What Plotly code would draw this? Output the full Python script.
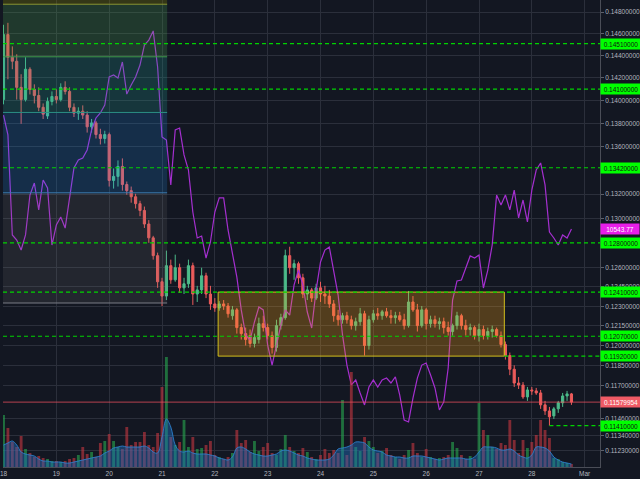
import math
import pandas as pd
import plotly.graph_objects as go

# ---------------- data (2-hour candles, Feb 18 - Feb 28) ----------------
candle_times = pd.date_range("2018-02-18 00:00", periods=130, freq="2h")

open_ = [0.14008, 0.14593, 0.14386, 0.14350, 0.14116, 0.14008, 0.14278, 0.14098, 0.14044, 0.13940,
         0.13864, 0.13991, 0.14035, 0.14008, 0.14116, 0.14080, 0.13940, 0.13889, 0.13906, 0.13872,
         0.13770, 0.13804, 0.13703, 0.13669, 0.13703, 0.13313, 0.13347, 0.13431, 0.13279, 0.13228,
         0.13177, 0.13120, 0.13064, 0.12953, 0.12841, 0.12698, 0.12491, 0.12379, 0.12618, 0.12506,
         0.12602, 0.12443, 0.12475, 0.12618, 0.12395, 0.12427, 0.12538, 0.12395, 0.12318, 0.12287,
         0.12318, 0.12302, 0.12227, 0.12272, 0.12136, 0.12090, 0.12075, 0.12015, 0.12045, 0.12166,
         0.12136, 0.12075, 0.11985, 0.12151, 0.12212, 0.12698, 0.12602, 0.12634, 0.12522, 0.12395,
         0.12427, 0.12363, 0.12443, 0.12395, 0.12379, 0.12318, 0.12227, 0.12196, 0.12227, 0.12196,
         0.12151, 0.12181, 0.12242, 0.12000, 0.12196, 0.12242, 0.12227, 0.12257, 0.12227, 0.12212,
         0.12227, 0.12196, 0.12151, 0.12333, 0.12272, 0.12151, 0.12272, 0.12166, 0.12196, 0.12166,
         0.12181, 0.12136, 0.12106, 0.12151, 0.12227, 0.12151, 0.12121, 0.12136, 0.12075, 0.12121,
         0.12075, 0.12106, 0.12121, 0.12075, 0.12007, 0.11924, 0.11822, 0.11720, 0.11705, 0.11618,
         0.11669, 0.11662, 0.11647, 0.11560, 0.11516, 0.11480, 0.11531, 0.11575, 0.11625, 0.11640]
high = [0.14683, 0.14701, 0.14485, 0.14413, 0.14233, 0.14386, 0.14296, 0.14143, 0.14116, 0.13974,
        0.14026, 0.14080, 0.14098, 0.14152, 0.14170, 0.14116, 0.13974, 0.13940, 0.13957, 0.13906,
        0.13838, 0.13821, 0.13753, 0.13736, 0.13720, 0.13414, 0.13482, 0.13499, 0.13304, 0.13262,
        0.13202, 0.13144, 0.13096, 0.12985, 0.12857, 0.12722, 0.12522, 0.12738, 0.12666, 0.12706,
        0.12634, 0.12522, 0.12666, 0.12642, 0.12459, 0.12602, 0.12562, 0.12459, 0.12363, 0.12340,
        0.12348, 0.12325, 0.12302, 0.12287, 0.12166, 0.12136, 0.12121, 0.12090, 0.12212, 0.12227,
        0.12166, 0.12106, 0.12196, 0.12242, 0.12746, 0.12769, 0.12666, 0.12650, 0.12554, 0.12459,
        0.12443, 0.12475, 0.12491, 0.12459, 0.12427, 0.12348, 0.12272, 0.12249, 0.12257, 0.12227,
        0.12212, 0.12287, 0.12265, 0.12227, 0.12272, 0.12287, 0.12272, 0.12287, 0.12272, 0.12257,
        0.12257, 0.12242, 0.12419, 0.12379, 0.12318, 0.12302, 0.12287, 0.12227, 0.12227, 0.12212,
        0.12212, 0.12181, 0.12166, 0.12257, 0.12242, 0.12196, 0.12166, 0.12151, 0.12166, 0.12151,
        0.12136, 0.12151, 0.12136, 0.12106, 0.12030, 0.11947, 0.11851, 0.11764, 0.11727, 0.11691,
        0.11691, 0.11684, 0.11669, 0.11589, 0.11545, 0.11545, 0.11589, 0.11647, 0.11662, 0.11647]
low = [0.13966, 0.14188, 0.14278, 0.14008, 0.13796, 0.13991, 0.14053, 0.13974, 0.13906, 0.13838,
       0.13838, 0.13957, 0.13974, 0.13991, 0.14053, 0.13906, 0.13855, 0.13830, 0.13838, 0.13720,
       0.13720, 0.13669, 0.13618, 0.13626, 0.13262, 0.13245, 0.13262, 0.13228, 0.13194, 0.13128,
       0.13080, 0.13017, 0.12921, 0.12801, 0.12666, 0.12443, 0.12302, 0.12348, 0.12475, 0.12491,
       0.12403, 0.12395, 0.12443, 0.12310, 0.12333, 0.12395, 0.12363, 0.12272, 0.12257, 0.12265,
       0.12272, 0.12212, 0.12196, 0.12090, 0.12045, 0.12000, 0.11985, 0.11985, 0.12015, 0.12106,
       0.12045, 0.11939, 0.11954, 0.12121, 0.12196, 0.12554, 0.12506, 0.12475, 0.12363, 0.12348,
       0.12333, 0.12348, 0.12333, 0.12318, 0.12287, 0.12181, 0.12151, 0.12166, 0.12166, 0.12121,
       0.12113, 0.12151, 0.11924, 0.11969, 0.12174, 0.12196, 0.12196, 0.12212, 0.12166, 0.12166,
       0.12181, 0.12121, 0.12136, 0.12257, 0.12106, 0.12136, 0.12121, 0.12136, 0.12136, 0.12121,
       0.12090, 0.12075, 0.12075, 0.12121, 0.12121, 0.12075, 0.12075, 0.12045, 0.12030, 0.12045,
       0.12045, 0.12060, 0.12060, 0.11985, 0.11894, 0.11778, 0.11691, 0.11676, 0.11604, 0.11589,
       0.11633, 0.11633, 0.11531, 0.11487, 0.11410, 0.11458, 0.11502, 0.11545, 0.11589, 0.11560]
close = [0.14593, 0.14386, 0.14350, 0.14116, 0.14008, 0.14278, 0.14098, 0.14044, 0.13940, 0.13880,
         0.13991, 0.14035, 0.14008, 0.14116, 0.14080, 0.13940, 0.13889, 0.13906, 0.13872, 0.13770,
         0.13804, 0.13703, 0.13669, 0.13703, 0.13313, 0.13347, 0.13431, 0.13279, 0.13228, 0.13177,
         0.13120, 0.13064, 0.12953, 0.12841, 0.12698, 0.12491, 0.12379, 0.12618, 0.12506, 0.12602,
         0.12443, 0.12475, 0.12618, 0.12395, 0.12427, 0.12538, 0.12395, 0.12318, 0.12287, 0.12318,
         0.12302, 0.12242, 0.12272, 0.12136, 0.12090, 0.12045, 0.12015, 0.12060, 0.12166, 0.12136,
         0.12075, 0.11985, 0.12151, 0.12212, 0.12698, 0.12602, 0.12634, 0.12522, 0.12395, 0.12427,
         0.12363, 0.12443, 0.12395, 0.12379, 0.12318, 0.12227, 0.12196, 0.12227, 0.12196, 0.12151,
         0.12181, 0.12242, 0.12000, 0.12196, 0.12242, 0.12227, 0.12257, 0.12227, 0.12212, 0.12227,
         0.12196, 0.12151, 0.12333, 0.12272, 0.12151, 0.12272, 0.12166, 0.12196, 0.12166, 0.12181,
         0.12136, 0.12106, 0.12151, 0.12227, 0.12151, 0.12121, 0.12136, 0.12075, 0.12121, 0.12075,
         0.12106, 0.12121, 0.12075, 0.12007, 0.11924, 0.11822, 0.11720, 0.11705, 0.11618, 0.11669,
         0.11662, 0.11647, 0.11560, 0.11516, 0.11473, 0.11531, 0.11575, 0.11625, 0.11640, 0.11579954]

volume_m = [5.2, 3.9, 2.5, 2.0, 3.1, 1.8, 1.4, 1.0, 1.1, 0.9,
            0.8, 0.6, 0.6, 0.5, 0.6, 0.8, 0.9, 1.2, 2.0, 1.3,
            1.5, 1.0, 2.4, 2.6, 3.3, 2.6, 2.0, 1.8, 4.0, 2.2,
            2.5, 2.5, 3.5, 2.2, 2.0, 3.4, 8.0, 11.0, 3.0, 2.2,
            2.5, 4.7, 2.0, 3.0, 1.8, 1.9, 2.2, 2.6, 1.2, 1.0,
            0.8, 1.0, 1.4, 3.7, 2.4, 2.7, 1.5, 2.6, 1.6, 2.0,
            2.4, 1.4, 1.2, 1.8, 3.2, 2.0, 1.6, 1.4, 1.9, 1.5,
            1.0, 0.8, 1.2, 1.8, 1.4, 1.7, 1.4, 6.7, 1.2, 9.5,
            2.0, 1.6, 3.0, 2.6, 2.0, 1.4, 1.6, 1.9, 1.2, 1.0,
            0.8, 1.2, 1.7, 2.4, 1.4, 1.0, 1.8, 1.0, 0.8, 0.9,
            1.0, 1.2, 2.5, 1.9, 1.2, 0.8, 1.1, 0.8, 6.4, 3.7,
            3.2, 2.0, 1.8, 2.4, 2.2, 4.7, 2.7, 1.4, 2.7, 1.9,
            2.5, 3.2, 4.7, 3.7, 2.9, 0.9, 0.8, 0.5, 0.4, 0.3]

volume_avg_m = [2.2, 2.4, 2.6, 2.2, 1.5, 1.3, 1.2, 1.1, 0.8, 0.6,
                0.6, 0.5, 0.5, 0.5, 0.4, 0.4, 0.5, 0.6, 0.7, 0.8,
                0.9, 1.0, 1.1, 1.4, 1.6, 1.9, 2.0, 2.1, 2.0, 2.0,
                2.0, 2.0, 2.1, 1.9, 1.5, 1.4, 3.0, 4.8, 4.0, 2.2,
                1.6, 1.5, 1.6, 1.4, 1.3, 1.3, 1.3, 1.2, 1.1, 0.9,
                0.8, 0.7, 1.0, 1.9, 2.0, 1.8, 1.5, 1.3, 1.2, 1.1,
                1.1, 1.2, 1.3, 1.6, 1.7, 1.6, 1.4, 1.2, 1.1, 0.9,
                0.8, 0.7, 0.7, 0.7, 0.8, 1.2, 1.8, 1.9, 2.0, 2.2,
                2.5, 2.5, 2.4, 2.0, 1.7, 1.6, 1.5, 1.2, 1.1, 1.0,
                1.0, 0.9, 0.9, 1.1, 1.1, 1.1, 1.0, 0.9, 0.8, 0.7,
                0.8, 0.9, 0.9, 0.9, 0.9, 0.8, 0.8, 1.0, 1.5, 2.0,
                2.0, 2.0, 1.9, 1.7, 1.7, 1.8, 1.6, 1.2, 1.0, 0.9,
                1.2, 2.0, 2.0, 1.9, 1.6, 1.0, 0.7, 0.5, 0.4, 0.3]

btc_usd = [11255, 11131, 10507, 10475, 10413, 10507, 10756, 10831, 10663, 10850,
           10800, 10444, 10569, 10619, 10550, 10725, 10925, 10975, 10987, 11037,
           11162, 11237, 11268, 11318, 11493, 11505, 11486, 11586, 11386, 11443,
           11493, 11567, 11692, 11723, 11780, 11555, 11118, 11099, 10819, 11162,
           11174, 11006, 10912, 10650, 10488, 10500, 10363, 10463, 10650, 10738,
           10738, 10538, 10400, 10244, 10039, 9883, 9851, 9964, 10057, 10039,
           9820, 9695, 9820, 9945, 10039, 10007, 10195, 10288, 10195, 10026,
           9926, 10163, 10338, 10413, 10432, 10276, 10132, 9883, 9695, 9571,
           9602, 9521, 9446, 9558, 9602, 9558, 9602, 9614, 9583, 9621,
           9508, 9352, 9340, 9489, 9614, 9695, 9708, 9633, 9552, 9415,
           9465, 9677, 10101, 10220, 10226, 10301, 10376, 10363, 10382, 10176,
           10288, 10444, 10756, 10694, 10756, 10663, 10787, 10613, 10725, 10588,
           10787, 10912, 10956, 10819, 10525, 10488, 10444, 10507, 10488, 10543.77]

day_ticks = pd.date_range("2018-02-18", "2018-03-01", freq="D")
day_labels = ["18", "19", "20", "21", "22", "23", "24", "25", "26", "27", "28", "Mar"]

price_ticks = [0.148, 0.146, 0.144, 0.142, 0.140, 0.138, 0.136, 0.132, 0.130, 0.126,
               0.1245, 0.123, 0.1215, 0.120, 0.1185, 0.117, 0.1146, 0.1134, 0.1123]
price_tick_labels = ["%.8f" % v for v in price_ticks]

level_prices = [0.1451, 0.1410, 0.1342, 0.1280, 0.1241, 0.1207, 0.1192, 0.1141]
last_price = 0.11579954
last_btc = 10543.77

fib_levels = [0.16, 0.14874, 0.14390, 0.13895, 0.13210, 0.12325]
box_top, box_bottom = 0.1241, 0.1192

# ---------------- styling ----------------
BG = "#131722"
GRID = "#2b2f3b"
TXT = "#b2b5be"
UP = "#4cbb8a"
DOWN = "#ec5b5b"
FONT = "Liberation Sans, Arial, sans-serif"

x_start = pd.Timestamp("2018-02-17 23:46")
x_end = pd.Timestamp("2018-03-01 06:58")
fib_end = pd.Timestamp("2018-02-21 02:20")
box_start = pd.Timestamp("2018-02-22 01:30")
box_end = pd.Timestamp("2018-02-27 11:30")
line_starts = {0.1192: box_end, 0.1141: pd.Timestamp("2018-02-28 08:00")}

fig = go.Figure()

fig.add_trace(go.Candlestick(
    x=candle_times, open=open_, high=high, low=low, close=close,
    increasing=dict(line=dict(color=UP, width=1), fillcolor=UP),
    decreasing=dict(line=dict(color=DOWN, width=1), fillcolor=DOWN),
    whiskerwidth=0, hoverinfo="skip", name="price"))

fig.add_trace(go.Scatter(
    x=candle_times, y=btc_usd, yaxis="y2", mode="lines",
    line=dict(color="#a52fd0", width=1.2), hoverinfo="skip", name="BTC"))

fig.add_trace(go.Bar(
    x=candle_times, y=volume_m, yaxis="y3",
    marker=dict(color=["rgba(40,170,80,0.6)" if c >= o else "rgba(200,55,65,0.6)"
                       for o, c in zip(open_, close)], line=dict(width=0)),
    hoverinfo="skip", name="volume"))

fig.add_trace(go.Scatter(
    x=candle_times, y=volume_avg_m, yaxis="y3", mode="lines", fill="tozeroy",
    line=dict(color="rgba(45,130,210,0.85)", width=1, shape="spline"),
    fillcolor="rgba(30,110,190,0.45)", hoverinfo="skip", name="vol avg"))

shapes = []
fib_fills = ["rgba(128,128,0,0.30)", "rgba(76,175,80,0.23)", "rgba(38,166,154,0.225)",
             "rgba(33,150,243,0.19)", "rgba(128,128,128,0.15)"]
fib_lines = ["#8a9532", "#3f9b4c", "#2b8f84", "#3b7cb3", "#7a7d86"]
for k in range(len(fib_fills)):
    shapes.append(dict(type="rect", xref="x", yref="y", x0=x_start - pd.Timedelta("2h"), x1=fib_end,
                       y0=fib_levels[k + 1], y1=fib_levels[k], fillcolor=fib_fills[k],
                       line=dict(width=0), layer="above"))
for k in range(1, len(fib_levels)):
    shapes.append(dict(type="line", xref="x", yref="y", x0=x_start - pd.Timedelta("2h"), x1=fib_end,
                       y0=fib_levels[k], y1=fib_levels[k], line=dict(color=fib_lines[k - 1], width=1),
                       layer="above"))

shapes.append(dict(type="rect", xref="x", yref="y", x0=box_start, x1=box_end,
                   y0=box_bottom, y1=box_top, fillcolor="rgba(255,165,20,0.27)",
                   line=dict(color="#d2bf1c", width=1), layer="above"))

for v in level_prices:
    shapes.append(dict(type="line", xref="x", yref="y", x0=line_starts.get(v, x_start), x1=x_end,
                       y0=v, y1=v, line=dict(color="#00d400", width=1.2, dash="4px,3px"),
                       layer="above"))

shapes.append(dict(type="line", xref="x", yref="y", x0=x_start, x1=x_end,
                   y0=last_price, y1=last_price,
                   line=dict(color="rgba(236,80,95,0.75)", width=1), layer="above"))

annotations = []
for v in level_prices:
    annotations.append(dict(x=1, xref="paper", xanchor="left", y=math.log10(v), yref="y",
                            yanchor="middle", text="%.8f" % v, showarrow=False,
                            bgcolor="#00ff00", font=dict(color="#10140f", size=6.5, family=FONT),
                            width=38, height=8, borderpad=1, align="center"))
annotations.append(dict(x=1, xref="paper", xanchor="left", y=math.log10(last_price), yref="y",
                        yanchor="middle", text="%.8f" % last_price, showarrow=False,
                        bgcolor="#ef5a65", font=dict(color="#ffffff", size=6.5, family=FONT),
                        width=38, height=8, borderpad=1, align="center"))
annotations.append(dict(x=1, xref="paper", xanchor="left", y=last_btc, yref="y2",
                        yanchor="middle", text="%.2f" % last_btc, showarrow=False,
                        bgcolor="#e81ee8", font=dict(color="#ffffff", size=6.5, family=FONT),
                        width=36, height=8, borderpad=1, align="center"))

fig.update_layout(
    width=640, height=479,
    margin=dict(l=0, r=40, t=0, b=12),
    paper_bgcolor=BG, plot_bgcolor=BG,
    showlegend=False, bargap=0.35,
    font=dict(family=FONT, size=6.5, color=TXT),
    shapes=shapes, annotations=annotations,
    xaxis=dict(type="date", range=[x_start, x_end], tickvals=day_ticks, ticktext=day_labels,
               showgrid=True, gridcolor=GRID, gridwidth=1, zeroline=False,
               showline=True, linecolor="#4a4d57", ticks="", rangeslider=dict(visible=False),
               ticklabeloverflow="allow", tickfont=dict(size=6.5, color=TXT)),
    yaxis=dict(type="log", side="right",
               range=[math.log10(0.111168), math.log10(0.149136)],
               tickvals=price_ticks, ticktext=price_tick_labels,
               showgrid=True, gridcolor=GRID, gridwidth=1, zeroline=False,
               ticks="outside", ticklen=3, tickcolor="#5d606b",
               showline=True, linecolor="#4a4d57",
               tickfont=dict(size=6.5, color=TXT)),
    yaxis2=dict(overlaying="y", range=[9059, 11973], visible=False, showgrid=False),
    yaxis3=dict(overlaying="y", range=[0, 46.7], visible=False, showgrid=False),
)

fig.write_html("out.html", config={"displayModeBar": False},
               post_script="document.body.style.margin='0px';document.body.style.background='#131722';")
